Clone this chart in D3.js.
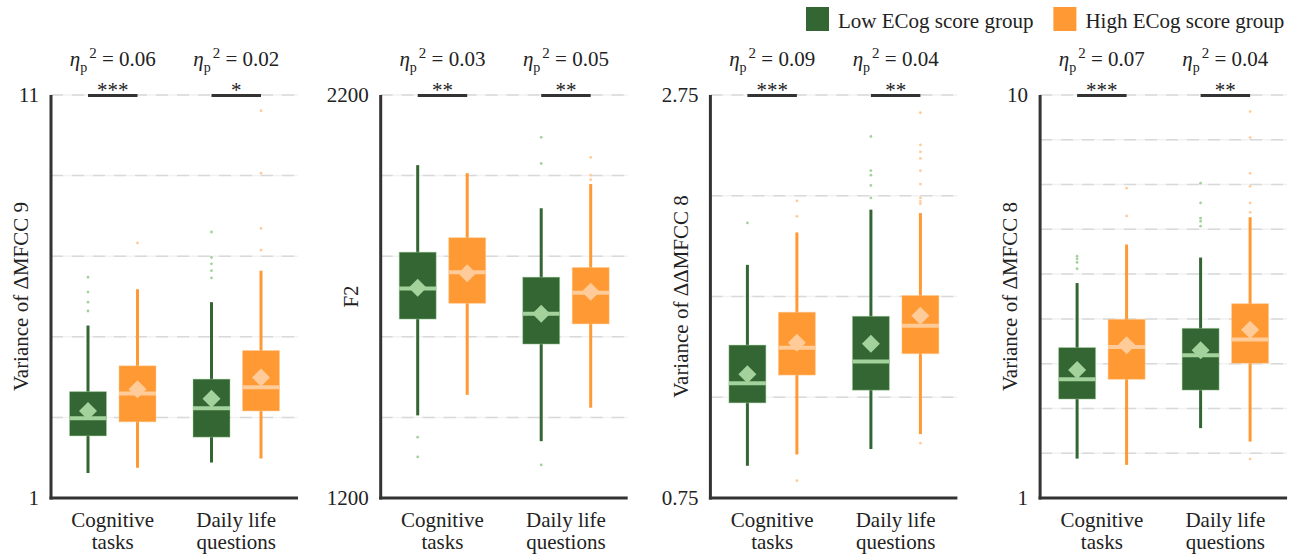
<!DOCTYPE html>
<html>
<head>
<meta charset="utf-8">
<script src="https://cdn.jsdelivr.net/npm/d3@7"></script>
<style>
  html, body { margin: 0; padding: 0; background: #fff; }
  svg { display: block; }
</style>
</head>
<body>
<svg id="chart"></svg>
<script>
// categories and groups
const categories = ['Cognitive tasks', 'Daily life questions']
const groups = ['Low ECog score group', 'High ECog score group']

// one entry per panel
const yLabels = ['Variance of ΔMFCC 9', 'F2', 'Variance of ΔΔMFCC 8', 'Variance of ΔMFCC 8']
const yDomains = [[1, 11], [1200, 2200], [0.75, 2.75], [1, 10]]
const gridSteps = [2, 200, 0.5, 1]
const tickLabels = [['1', '11'], ['1200', '2200'], ['0.75', '2.75'], ['1', '10']]
const etaValues = [['0.06', '0.02'], ['0.03', '0.05'], ['0.09', '0.04'], ['0.07', '0.04']]
const stars = [['***', '*'], ['**', '**'], ['***', '**'], ['***', '**']]

// box stats: [category][group] -> lo whisker, q1, median, q3, hi whisker, mean, outliers
const mfcc9Var = [
  [{ lo: 1.62, q1: 2.54, med: 2.98, q3: 3.64, hi: 5.28, mean: 3.16, out: [5.64, 5.86, 6.11, 6.48] },
   { lo: 1.75, q1: 2.89, med: 3.59, q3: 4.28, hi: 6.18, mean: 3.70, out: [7.33] }],
  [{ lo: 1.88, q1: 2.51, med: 3.23, q3: 3.95, hi: 5.86, mean: 3.46, out: [6.46, 6.64, 6.81, 6.97, 7.60] },
   { lo: 1.98, q1: 3.16, med: 3.75, q3: 4.66, hi: 6.64, mean: 3.99, out: [7.15, 7.69, 9.06, 10.61] }],
]
const f2 = [
  [{ lo: 1405, q1: 1644, med: 1720, q3: 1810, hi: 2026, mean: 1722, out: [1302, 1351] },
   { lo: 1456, q1: 1683, med: 1760, q3: 1846, hi: 2006, mean: 1758, out: [] }],
  [{ lo: 1341, q1: 1582, med: 1657, q3: 1748, hi: 1919, mean: 1657, out: [1282, 2030, 2095] },
   { lo: 1424, q1: 1632, med: 1709, q3: 1772, hi: 1979, mean: 1712, out: [1990, 2001, 2045] }],
]
const ddMfcc8Var = [
  [{ lo: 0.91, q1: 1.222, med: 1.319, q3: 1.509, hi: 1.907, mean: 1.364, out: [2.115] },
   { lo: 0.966, q1: 1.36, med: 1.496, q3: 1.672, hi: 2.068, mean: 1.521, out: [0.836, 2.148, 2.225] }],
  [{ lo: 0.993, q1: 1.285, med: 1.427, q3: 1.652, hi: 2.181, mean: 1.516, out: [2.239, 2.301, 2.352, 2.375, 2.544] },
   { lo: 1.067, q1: 1.466, med: 1.605, q3: 1.755, hi: 2.164, mean: 1.654,
     out: [1.022, 2.21, 2.222, 2.239, 2.308, 2.374, 2.435, 2.468, 2.502, 2.662] }],
]
const dMfcc8Var = [
  [{ lo: 1.88, q1: 3.21, med: 3.65, q3: 4.36, hi: 5.80, mean: 3.86, out: [6.12, 6.26, 6.34, 6.40] },
   { lo: 1.74, q1: 3.65, med: 4.37, q3: 4.99, hi: 6.66, mean: 4.41, out: [7.30, 7.92] }],
  [{ lo: 2.56, q1: 3.41, med: 4.19, q3: 4.79, hi: 6.37, mean: 4.30, out: [7.07, 7.18, 7.25, 7.59, 8.03] },
   { lo: 2.26, q1: 4.01, med: 4.54, q3: 5.34, hi: 7.27, mean: 4.76, out: [1.87, 7.38, 7.59, 7.96, 8.25, 9.05, 9.63] }],
]
const panelStats = [mfcc9Var, f2, ddMfcc8Var, dMfcc8Var]

// ─── styles ───
const FONT = "'Liberation Serif', 'Times New Roman', serif"
const DARK = ['#336633', '#FF9933']
const LIGHT = ['#A3D29C', '#FFCB99']
const AXIS = '#333'

const width = 1300, height = 555
const svg = d3.select('#chart').attr('width', width).attr('height', height)
svg.append('rect').attr('width', width).attr('height', height).attr('fill', '#fff')

const plotTop = 95, plotBottom = 498
const firstAxisX = 51, panelStep = 329.7, plotW = 247
const boxW = 37

panelStats.forEach((stats, p) => {
  const x0 = firstAxisX + p * panelStep
  const g = svg.append('g').attr('transform', `translate(${x0},0)`)

  const y = d3.scaleLinear().domain(yDomains[p]).range([plotBottom, plotTop])
  const xCat = d3.scaleBand().domain(categories).range([0, plotW]).padding(0)
  const xGrp = d3.scaleBand().domain(groups).range([xCat.bandwidth() / 2 - 49.5, xCat.bandwidth() / 2 + 49.5]).padding(0)

  // ─── 格線 ───
  const [d0, d1] = yDomains[p]
  const gridVals = d3.range(d0 + gridSteps[p], d1 + gridSteps[p] / 2, gridSteps[p])
  const grid = g.append('g')
  grid.selectAll('line.solid').data(gridVals).join('line')
    .attr('class', 'solid')
    .attr('x1', 0).attr('x2', plotW)
    .attr('y1', d => y(d)).attr('y2', d => y(d))
    .attr('stroke', '#f2f2f2').attr('stroke-width', 1.5)
  grid.selectAll('line.dash').data(gridVals).join('line')
    .attr('class', 'dash')
    .attr('x1', 0).attr('x2', plotW)
    .attr('y1', d => y(d)).attr('y2', d => y(d))
    .attr('stroke', '#d9d9d9').attr('stroke-width', 1.5)
    .attr('stroke-dasharray', '12,9')

  // ─── 軸 ───
  g.append('line').attr('x1', 0).attr('x2', 0).attr('y1', plotTop).attr('y2', plotBottom + 1.5)
    .attr('stroke', AXIS).attr('stroke-width', 3)
  g.append('line').attr('x1', -1.5).attr('x2', plotW).attr('y1', plotBottom).attr('y2', plotBottom)
    .attr('stroke', AXIS).attr('stroke-width', 3)

  // only end ticks are labelled
  g.selectAll('text.tick').data(yDomains[p]).join('text')
    .attr('class', 'tick')
    .attr('x', -12).attr('y', d => y(d)).attr('dy', '0.35em')
    .attr('text-anchor', 'end')
    .attr('font-family', FONT).attr('font-size', 21).attr('fill', '#222')
    .text((d, i) => tickLabels[p][i])

  // y label
  g.append('text')
    .attr('transform', `translate(-30,${(plotTop + plotBottom) / 2}) rotate(-90)`)
    .attr('text-anchor', 'middle').attr('dy', '0.35em')
    .attr('font-family', FONT).attr('font-size', 21).attr('fill', '#222')
    .text(yLabels[p])

  // category labels (two lines)
  categories.forEach(cat => {
    const words = cat.split(' ')
    const lines = words.length > 2 ? [words.slice(0, 2).join(' '), words.slice(2).join(' ')] : words
    const t = g.append('text')
      .attr('x', xCat(cat) + xCat.bandwidth() / 2).attr('y', 527)
      .attr('text-anchor', 'middle')
      .attr('font-family', FONT).attr('font-size', 21).attr('fill', '#222')
    lines.forEach((ln, i) => {
      t.append('tspan').attr('x', xCat(cat) + xCat.bandwidth() / 2).attr('dy', i ? 22 : 0).text(ln)
    })
  })

  // ─── 箱形圖 ───
  categories.forEach((cat, ci) => {
    groups.forEach((grp, gi) => {
      const s = stats[ci][gi]
      const cx = xCat(cat) + xGrp(grp) + xGrp.bandwidth() / 2
      const bg = g.append('g')

      bg.append('line').attr('x1', cx).attr('x2', cx).attr('y1', y(s.lo)).attr('y2', y(s.hi))
        .attr('stroke', DARK[gi]).attr('stroke-width', 3)
      bg.append('rect')
        .attr('x', cx - boxW / 2).attr('width', boxW)
        .attr('y', y(s.q3)).attr('height', y(s.q1) - y(s.q3))
        .attr('fill', DARK[gi])
        .attr('stroke', LIGHT[gi]).attr('stroke-opacity', 0.45).attr('stroke-width', 1)
      bg.append('line').attr('x1', cx - boxW / 2).attr('x2', cx + boxW / 2)
        .attr('y1', y(s.med)).attr('y2', y(s.med))
        .attr('stroke', LIGHT[gi]).attr('stroke-width', 4)
      const my = y(s.mean), r = 9
      bg.append('path')
        .attr('d', `M${cx},${my - r}L${cx + r},${my}L${cx},${my + r}L${cx - r},${my}Z`)
        .attr('fill', LIGHT[gi])
      bg.selectAll('circle').data(s.out).join('circle')
        .attr('cx', cx).attr('cy', d => y(d)).attr('r', 1.4)
        .attr('fill', LIGHT[gi])
    })

    // significance bar + stars + effect size
    const xa = xCat(cat) + xGrp(groups[0]) + xGrp.bandwidth() / 2
    const xb = xCat(cat) + xGrp(groups[1]) + xGrp.bandwidth() / 2
    g.append('line').attr('x1', xa).attr('x2', xb).attr('y1', plotTop + 0.5).attr('y2', plotTop + 0.5)
      .attr('stroke', AXIS).attr('stroke-width', 3)
    g.append('text')
      .attr('x', (xa + xb) / 2).attr('y', 97)
      .attr('text-anchor', 'middle')
      .attr('font-family', FONT).attr('font-size', 21).attr('fill', '#222')
      .text(stars[p][ci])

    const eta = g.append('text')
      .attr('x', (xa + xb) / 2).attr('y', 66)
      .attr('text-anchor', 'middle')
      .attr('font-family', FONT).attr('font-size', 21).attr('fill', '#222')
    eta.append('tspan').attr('font-style', 'italic').text('η')
    eta.append('tspan').attr('font-size', 14).attr('dy', 6).text('p')
    eta.append('tspan').attr('font-size', 15).attr('dy', -14).attr('dx', 2).text('2')
    eta.append('tspan').attr('dy', 8).text('\u00a0= ' + etaValues[p][ci])
  })
})

// ─── 圖例 ───
const legend = svg.append('g').attr('transform', 'translate(806,7)')
let lx = 0
groups.forEach((grp, i) => {
  legend.append('rect').attr('x', lx).attr('y', 0).attr('width', 23).attr('height', 24)
    .attr('fill', DARK[i])
  const t = legend.append('text').attr('x', lx + 32).attr('y', 21)
    .attr('font-family', FONT).attr('font-size', 21).attr('fill', '#222')
    .text(grp)
  lx += 32 + t.node().getComputedTextLength() + 20
})
</script>
</body>
</html>
